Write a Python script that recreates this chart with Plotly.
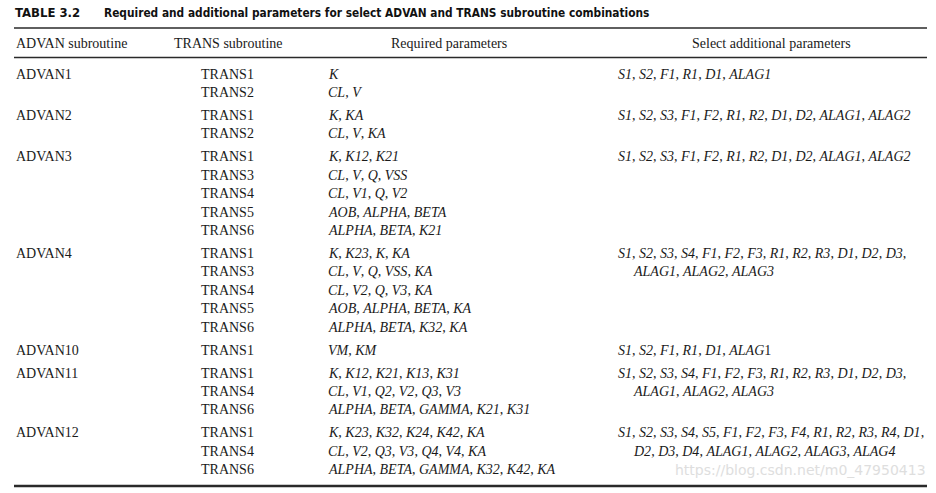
import plotly.graph_objects as go

# ---------------------------------------------------------------------------
# Contenido de la tabla
# ---------------------------------------------------------------------------
title_num = "TABLE 3.2"
title_txt = "Required and additional parameters for select ADVAN and TRANS subroutine combinations"
headers = ["ADVAN subroutine", "TRANS subroutine", "Required parameters", "Select additional parameters"]

advan = ["ADVAN1", "ADVAN2", "ADVAN3", "ADVAN4", "ADVAN10", "ADVAN11", "ADVAN12"]

trans = [
    ["TRANS1", "TRANS2"],
    ["TRANS1", "TRANS2"],
    ["TRANS1", "TRANS3", "TRANS4", "TRANS5", "TRANS6"],
    ["TRANS1", "TRANS3", "TRANS4", "TRANS5", "TRANS6"],
    ["TRANS1"],
    ["TRANS1", "TRANS4", "TRANS6"],
    ["TRANS1", "TRANS4", "TRANS6"],
]

required = [
    [["K"], ["CL", "V"]],
    [["K", "KA"], ["CL", "V", "KA"]],
    [["K", "K12", "K21"], ["CL", "V", "Q", "VSS"], ["CL", "V1", "Q", "V2"],
     ["AOB", "ALPHA", "BETA"], ["ALPHA", "BETA", "K21"]],
    [["K", "K23", "K", "KA"], ["CL", "V", "Q", "VSS", "KA"], ["CL", "V2", "Q", "V3", "KA"],
     ["AOB", "ALPHA", "BETA", "KA"], ["ALPHA", "BETA", "K32", "KA"]],
    [["VM", "KM"]],
    [["K", "K12", "K21", "K13", "K31"], ["CL", "V1", "Q2", "V2", "Q3", "V3"],
     ["ALPHA", "BETA", "GAMMA", "K21", "K31"]],
    [["K", "K23", "K32", "K24", "K42", "KA"], ["CL", "V2", "Q3", "V3", "Q4", "V4", "KA"],
     ["ALPHA", "BETA", "GAMMA", "K32", "K42", "KA"]],
]

# lineas de parametros adicionales (la segunda linea va con sangria)
additional = [
    [["S1", "S2", "F1", "R1", "D1", "ALAG1"]],
    [["S1", "S2", "S3", "F1", "F2", "R1", "R2", "D1", "D2", "ALAG1", "ALAG2"]],
    [["S1", "S2", "S3", "F1", "F2", "R1", "R2", "D1", "D2", "ALAG1", "ALAG2"]],
    [["S1", "S2", "S3", "S4", "F1", "F2", "F3", "R1", "R2", "R3", "D1", "D2", "D3", ""],
     ["ALAG1", "ALAG2", "ALAG3"]],
    [["S1", "S2", "F1", "R1", "D1", "ALAG|1"]],
    [["S1", "S2", "S3", "S4", "F1", "F2", "F3", "R1", "R2", "R3", "D1", "D2", "D3", ""],
     ["ALAG1", "ALAG2", "ALAG3"]],
    [["S1", "S2", "S3", "S4", "S5", "F1", "F2", "F3", "F4", "R1", "R2", "R3", "R4", "D1", ""],
     ["D2", "D3", "D4", "ALAG1", "ALAG2", "ALAG3", "ALAG4"]],
]

watermark = "https://blog.csdn.net/m0_47950413"

# ---------------------------------------------------------------------------
# Geometria (unidades = pixeles)
# ---------------------------------------------------------------------------
W, H = 936, 493
X_LEFT, X_RIGHT = 14, 927
COL_X = [14, 199, 326, 616]
INDENT = 15
Y_TITLE, Y_TOP, Y_HEAD, Y_HLINE, Y_BOTTOM = 12.5, 28, 43.5, 57.5, 486
Y_FIRST = 74
ROW_H = 18.4
GROUP_GAP = 4.6

SERIF = "Liberation Serif, Times New Roman, serif"
NARROW = "DejaVu Sans Condensed, Liberation Sans Narrow, sans-serif"
INK = "#1a1a1a"
FS = 14


def italic_list(items):
    out = []
    for it in items:
        if it == "":
            out.append("")
        elif "|" in it:
            a, b = it.split("|")
            out.append(f"<i>{a}</i>{b}")
        else:
            out.append(f"<i>{it}</i>")
    return ", ".join(out)


annotations = []


def add_text(x, y, text, size=FS, family=SERIF, color=INK, anchor="left"):
    annotations.append(dict(
        x=x, y=y, xref="x", yref="y", text=text, showarrow=False,
        xanchor=anchor, yanchor="middle",
        font=dict(family=family, size=size, color=color),
    ))


# titulo
add_text(13, Y_TITLE, f"<b>{title_num}</b>", size=13, family=NARROW, color="#111")
add_text(102, Y_TITLE, f"<b>{title_txt}</b>", size=11.8, family=NARROW, color="#111")

# encabezados
add_text(COL_X[0], Y_HEAD, headers[0])
add_text(172, Y_HEAD, headers[1])
add_text(449, Y_HEAD, headers[2], anchor="center")
add_text(771, Y_HEAD, headers[3], anchor="center")

# filas
y0 = Y_FIRST
for g, name in enumerate(advan):
    add_text(COL_X[0], y0, name)
    for i, t in enumerate(trans[g]):
        y = y0 + i * ROW_H
        add_text(COL_X[1], y, t)
        add_text(COL_X[2], y, italic_list(required[g][i]))
    for i, line in enumerate(additional[g]):
        y = y0 + i * ROW_H
        add_text(COL_X[3] + (INDENT if i > 0 else 0), y, italic_list(line))
    y0 += len(trans[g]) * ROW_H + GROUP_GAP

# marca de agua
add_text(X_RIGHT + 1, 470, watermark, size=14, family="DejaVu Sans, sans-serif",
         color="#dedede", anchor="right")

fig = go.Figure()

# reglas horizontales
for y, w in [(Y_TOP, 1.6), (Y_HLINE, 1.3), (Y_BOTTOM, 2.4)]:
    fig.add_trace(go.Scatter(
        x=[X_LEFT, X_RIGHT], y=[y, y], mode="lines",
        line=dict(color="#2a2a2a", width=w),
        hoverinfo="skip", showlegend=False,
    ))

fig.update_layout(
    width=W, height=H,
    margin=dict(l=0, r=0, t=0, b=0),
    paper_bgcolor="white",
    plot_bgcolor="white",
    xaxis=dict(range=[0, W], visible=False, fixedrange=True),
    yaxis=dict(range=[H, 0], visible=False, fixedrange=True),
    annotations=annotations,
    showlegend=False,
)

# quitar el margen por defecto del body para que la figura ocupe la ventana
fig.write_html("out.html", config={"displayModeBar": False},
               post_script="document.body.style.margin='0px';document.body.style.overflow='hidden';")
